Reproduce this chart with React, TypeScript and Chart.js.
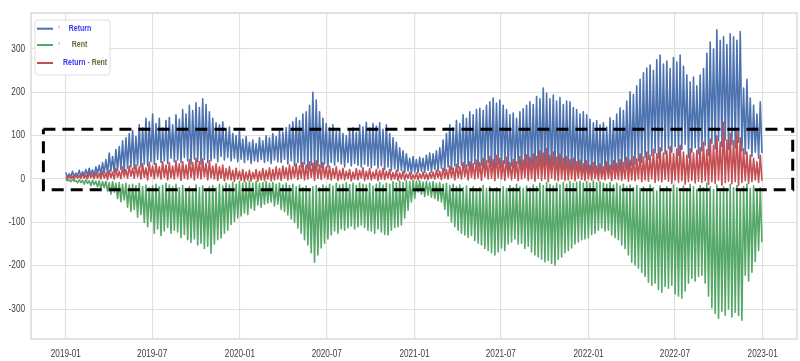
import React, { useEffect, useRef } from "react";
import { Chart, registerables } from "chart.js";

Chart.register(...registerables);

// x-axis ticks (days since 2019-01-01)
const tickDays = [0, 181, 365, 547, 731, 912, 1096, 1277, 1461];
const tickLabels = ["2019-01", "2019-07", "2020-01", "2020-07", "2021-01", "2021-07", "2022-01", "2022-07", "2023-01"];
const yTicks = [-300, -200, -100, 0, 100, 200, 300];

const seriesNames = ["Return", "Rent", "Return - Rent"];

// Weekly peaks / troughs (one value per week, 2019-01 .. 2022-12)
const returnHigh = [
  15, 12, 18, 14, 20, 17, 22, 25, 21, 28,
  32, 38, 45, 60, 52, 68, 75, 88, 95, 105,
  112, 98, 125, 118, 140, 132, 150, 128, 140, 118,
  135, 142, 125, 148, 138, 160, 150, 170, 158, 176,
  165, 185, 172, 155, 140, 130, 125, 132, 115, 120,
  105, 100, 110, 92, 98, 85, 90, 82, 95, 88,
  100, 95, 105, 98, 110, 108, 118, 125, 132, 141,
  135, 150, 155, 170, 200, 182, 155, 140, 128, 118,
  125, 110, 115, 105, 100, 112, 118, 108, 125, 120,
  131, 118, 128, 122, 130, 115, 125, 105, 95, 85,
  72, 65, 58, 48, 52, 45, 50, 48, 55, 60,
  58, 65, 72, 90, 105, 125, 118, 135, 128, 148,
  140, 155, 148, 160, 163, 158, 170, 178, 187, 175,
  182, 170, 160, 148, 152, 140, 155, 162, 170, 178,
  172, 190, 185, 210, 198, 185, 194, 180, 188, 172,
  180, 178, 165, 160, 150, 155, 148, 138, 130, 135,
  125, 130, 120, 141, 135, 150, 164, 158, 180, 201,
  195, 215, 230, 245, 256, 263, 250, 275, 286, 265,
  272, 255, 280, 270, 286, 260, 240, 224, 235, 215,
  240, 255, 290, 316, 300, 344, 320, 328, 310, 335,
  328, 320, 340, 210, 230, 187, 170, 150, 178,
];
const returnLow = [
  3, 5, 4, 7, 6, 8, 7, 10, 8, 12,
  10, 14, 12, 18, 15, 20, 22, 18, 25, 28,
  24, 32, 28, 35, 30, 40, 34, 45, 38, 42,
  36, 48, 40, 44, 38, 50, 42, 35, 46, 40,
  34, 45, 38, 42, 48, 40, 52, 44, 50, 42,
  48, 40, 46, 38, 44, 36, 42, 40, 45, 38,
  42, 36, 44, 40, 38, 46, 35, 42, 30, 38,
  28, 35, 25, 32, 20, 30, 26, 35, 28, 38,
  32, 40, 35, 28, 38, 30, 36, 32, 28, 34,
  30, 26, 32, 25, 30, 22, 28, 20, 24, 18,
  20, 15, 18, 12, 16, 14, 18, 15, 20, 16,
  22, 18, 25, 20, 28, 22, 30, 25, 32, 26,
  30, 24, 35, 28, 32, 26, 38, 30, 25, 34,
  28, 36, 22, 30, 26, 35, 20, 28, 24, 32,
  26, 20, 30, 18, 25, 22, 28, 16, 24, 20,
  26, 18, 22, 15, 20, 12, 18, 14, 20, 16,
  12, 18, 15, 22, 18, 25, 20, 28, 24, 32,
  35, 42, 38, 50, 45, 55, 60, 48, 65, 58,
  70, 62, 75, 55, 68, 80, 50, 62, 72, 58,
  65, 78, 55, 82, 70, 88, 75, 90, 68, 80,
  72, 85, 65, 58, 70, 52, 62, 48, 60,
];
const rentHigh = [
  -1, -2, -1, -3, -2, -3, -2, -4, -3, -5,
  -4, -6, -5, -8, -6, -10, -8, -12, -10, -14,
  -12, -15, -10, -18, -14, -20, -16, -12, -18, -15,
  -10, -14, -18, -12, -20, -15, -22, -18, -25, -14,
  -20, -16, -24, -18, -15, -20, -12, -16, -10, -14,
  -8, -12, -6, -10, -8, -5, -9, -6, -10, -8,
  -6, -10, -8, -12, -9, -14, -10, -15, -12, -18,
  -14, -20, -16, -22, -18, -15, -20, -14, -18, -12,
  -16, -10, -14, -12, -8, -13, -10, -15, -9, -12,
  -14, -10, -16, -12, -8, -14, -10, -12, -6, -9,
  -5, -8, -4, -6, -3, -5, -4, -7, -5, -8,
  -6, -10, -8, -12, -10, -15, -12, -18, -14, -20,
  -16, -22, -18, -25, -20, -15, -22, -18, -26, -20,
  -24, -18, -22, -15, -20, -12, -18, -22, -16, -20,
  -14, -18, -10, -15, -8, -12, -16, -10, -14, -8,
  -12, -6, -10, -8, -5, -9, -6, -10, -4, -8,
  -6, -9, -12, -8, -14, -10, -16, -12, -18, -14,
  -20, -15, -22, -18, -25, -14, -20, -28, -16, -22,
  -18, -25, -14, -20, -30, -16, -22, -12, -18, -24,
  -15, -20, -10, -18, -25, -14, -30, -18, -22, -12,
  -20, -15, -28, -18, -12, -22, -16, -25, -20,
];
const rentLow = [
  -4, -6, -5, -9, -8, -12, -10, -15, -13, -18,
  -22, -20, -28, -35, -30, -45, -52, -48, -65, -75,
  -70, -88, -82, -100, -110, -98, -125, -115, -130, -120,
  -112, -125, -118, -122, -135, -128, -140, -146, -138, -152,
  -148, -160, -155, -171, -150, -140, -136, -125, -118, -105,
  -98, -90, -85, -78, -82, -67, -72, -60, -65, -58,
  -55, -53, -62, -58, -70, -75, -83, -92, -100, -113,
  -125, -140, -152, -170, -192, -175, -159, -148, -138, -129,
  -120, -125, -115, -118, -113, -108, -115, -110, -106, -112,
  -118, -120, -125, -115, -122, -128, -129, -118, -112, -110,
  -106, -90, -72, -53, -45, -30, -35, -40, -37, -42,
  -45, -50, -53, -70, -85, -99, -110, -118, -125, -129,
  -135, -130, -142, -148, -152, -160, -165, -170, -175, -168,
  -159, -165, -150, -145, -138, -150, -148, -160, -155, -168,
  -175, -180, -185, -191, -188, -195, -199, -185, -180, -170,
  -165, -159, -150, -145, -140, -138, -136, -128, -125, -118,
  -113, -120, -118, -129, -135, -140, -152, -160, -175, -192,
  -198, -205, -215, -225, -238, -245, -240, -255, -261, -248,
  -252, -245, -265, -270, -275, -258, -240, -229, -235, -225,
  -222, -240, -270, -297, -310, -321, -305, -314, -300, -318,
  -307, -315, -326, -222, -235, -215, -190, -165, -146,
];
const diffHigh = [
  5, 8, 6, 10, 8, 12, 9, 14, 11, 15,
  12, 18, 14, 20, 16, 24, 18, 28, 22, 30,
  25, 32, 28, 35, 26, 38, 30, 36, 28, 40,
  32, 38, 30, 42, 35, 40, 32, 45, 38, 48,
  40, 46, 36, 42, 30, 35, 28, 32, 24, 28,
  20, 25, 18, 22, 16, 20, 15, 22, 18, 24,
  20, 26, 22, 28, 24, 30, 26, 32, 28, 35,
  30, 38, 32, 40, 36, 42, 32, 38, 28, 30,
  24, 28, 20, 25, 18, 22, 16, 24, 20, 26,
  18, 24, 16, 22, 20, 25, 18, 22, 15, 20,
  14, 18, 12, 15, 10, 14, 12, 16, 13, 15,
  16, 20, 18, 25, 22, 30, 26, 34, 28, 38,
  32, 40, 35, 44, 38, 48, 42, 52, 45, 55,
  48, 42, 50, 38, 45, 40, 52, 44, 56, 50,
  58, 52, 65, 60, 70, 55, 62, 50, 58, 48,
  52, 45, 48, 40, 44, 35, 42, 32, 38, 30,
  35, 28, 40, 32, 42, 36, 45, 38, 50, 44,
  52, 46, 58, 50, 62, 55, 68, 58, 72, 60,
  65, 75, 58, 70, 78, 62, 55, 70, 60, 66,
  72, 85, 68, 92, 78, 100, 85, 131, 90, 105,
  88, 110, 95, 70, 62, 55, 48, 40, 55,
];
const diffLow = [
  0, 1, 0, 2, 1, 2, 0, 3, 1, 2,
  0, 2, -1, 3, 0, 4, 1, 5, 2, 6,
  2, 5, 0, 4, -2, 6, 1, 5, 0, 4,
  -2, 3, 0, 5, -3, 2, 0, 4, -2, 3,
  0, 5, -2, 3, 0, -3, 2, -4, 0, -2,
  -5, 0, -3, -6, -2, -4, 0, -5, -2, -3,
  0, -4, -2, 0, -3, 2, -2, 0, 3, -1,
  2, -2, 0, 4, -3, 2, -1, 3, 0, -2,
  2, -3, 0, -2, 1, -4, 0, -2, 2, -3,
  0, -2, 1, -3, 0, -1, 2, -2, 0, -3,
  0, -2, 1, -1, 0, -2, 1, 0, -1, 2,
  0, 3, -1, 2, 0, 4, -2, 3, 0, 5,
  -2, 4, 0, 3, -3, 5, 0, 2, -4, 3,
  0, -3, 4, -2, 2, -4, 0, 3, -3, 1,
  -5, 2, -3, 0, -6, 2, -2, -4, 0, -3,
  -2, 0, -4, 2, -1, -3, 0, -2, 1, -3,
  0, -2, 2, -4, 0, -1, -3, 0, -5, -2,
  -4, 0, -6, -2, -5, 0, -8, -3, -6, -1,
  -5, -10, -2, -8, -4, -12, -6, -3, -9, -5,
  -8, -4, -12, -6, -10, -3, -14, -8, -5, -11,
  -6, -15, -8, -4, -10, -6, -2, -8, -4,
];

// dashed highlight box (days, values)
const boxDays = [-47, 1524];
const boxValues = [-25, 115];

const COLORS = { ret: "#4c72b0", rent: "#55a868", diff: "#c44e52" };
const FONT = "'Liberation Sans', Arial, sans-serif";
const SQUEEZE = 0.82;

function weekly(hi: number[], lo: number[]) {
  const pts: { x: number; y: number }[] = [];
  for (let k = 0; k < hi.length; k++) {
    pts.push({ x: k * 7, y: hi[k] });
    pts.push({ x: k * 7 + 3.5, y: lo[k] });
  }
  return pts;
}

function squeezedText(ctx: CanvasRenderingContext2D, text: string, x: number, y: number, align: CanvasTextAlign) {
  ctx.save();
  ctx.translate(x, y);
  ctx.scale(SQUEEZE, 1);
  ctx.textAlign = align;
  ctx.fillText(text, 0, 0);
  ctx.restore();
}

const framePlugin = {
  id: "frameAndLabels",
  afterDatasetsDraw(chart: any) {
    const { ctx, chartArea, scales } = chart;
    ctx.save();
    ctx.strokeStyle = "#d0d0d0";
    ctx.lineWidth = 1.2;
    ctx.strokeRect(chartArea.left, chartArea.top, chartArea.right - chartArea.left, chartArea.bottom - chartArea.top);
    ctx.fillStyle = "#3c3c3c";
    ctx.font = `10px ${FONT}`;
    ctx.textBaseline = "middle";
    tickDays.forEach((d, i) => {
      const px = scales.x.getPixelForValue(d);
      squeezedText(ctx, tickLabels[i], px, chartArea.bottom + 15, "center");
    });
    yTicks.forEach((v) => {
      const py = scales.y.getPixelForValue(v);
      squeezedText(ctx, String(v), chartArea.left - 6, py, "right");
    });
    ctx.restore();
  },
};

const legendPlugin = {
  id: "customLegend",
  afterDraw(chart: any) {
    const { ctx, chartArea } = chart;
    const x0 = chartArea.left + 4;
    const y0 = chartArea.top + 7;
    const w = 75;
    const h = 55;
    ctx.save();
    ctx.beginPath();
    const r = 3;
    ctx.moveTo(x0 + r, y0);
    ctx.lineTo(x0 + w - r, y0);
    ctx.quadraticCurveTo(x0 + w, y0, x0 + w, y0 + r);
    ctx.lineTo(x0 + w, y0 + h - r);
    ctx.quadraticCurveTo(x0 + w, y0 + h, x0 + w - r, y0 + h);
    ctx.lineTo(x0 + r, y0 + h);
    ctx.quadraticCurveTo(x0, y0 + h, x0, y0 + h - r);
    ctx.lineTo(x0, y0 + r);
    ctx.quadraticCurveTo(x0, y0, x0 + r, y0);
    ctx.closePath();
    ctx.fillStyle = "rgba(255,255,255,0.9)";
    ctx.fill();
    ctx.strokeStyle = "#dedede";
    ctx.lineWidth = 1;
    ctx.stroke();

    const rows = [y0 + 8.7, y0 + 25, y0 + 43];
    const cols = [COLORS.ret, COLORS.rent, COLORS.diff];
    ctx.lineWidth = 2;
    rows.forEach((ry, i) => {
      ctx.strokeStyle = cols[i];
      ctx.beginPath();
      ctx.moveTo(x0 + 2, ry);
      ctx.lineTo(x0 + 18, ry);
      ctx.stroke();
    });
    ctx.strokeStyle = "#b5b5b5";
    ctx.lineWidth = 1;
    [rows[0], rows[1]].forEach((ry) => {
      ctx.beginPath();
      ctx.moveTo(x0 + 24, ry - 3);
      ctx.lineTo(x0 + 24, ry);
      ctx.stroke();
    });

    const blue = "#3535f5";
    const olive = "#626b3c";
    ctx.font = `bold 8.5px ${FONT}`;
    ctx.textBaseline = "middle";
    ctx.fillStyle = blue;
    squeezedText(ctx, seriesNames[0], x0 + 45, rows[0], "center");
    ctx.fillStyle = olive;
    squeezedText(ctx, seriesNames[1], x0 + 44.5, rows[1], "center");
    let tx = x0 + 28;
    const parts: [string, string][] = [["Return", blue], [" - ", "#707070"], ["Rent", olive]];
    parts.forEach(([t, c]) => {
      ctx.fillStyle = c;
      squeezedText(ctx, t, tx, rows[2], "left");
      tx += ctx.measureText(t).width * SQUEEZE;
    });
    ctx.restore();
  },
};

export default function App() {
  const ref = useRef<HTMLCanvasElement>(null);
  useEffect(() => {
    document.body.style.margin = "0";
    const box = [
      { x: boxDays[0], y: boxValues[1] },
      { x: boxDays[1], y: boxValues[1] },
      { x: boxDays[1], y: boxValues[0] },
      { x: boxDays[0], y: boxValues[0] },
      { x: boxDays[0], y: boxValues[1] },
    ];
    const common = { pointRadius: 0, borderWidth: 1.6, tension: 0, borderJoinStyle: "round" as const, fill: false };
    const chart = new Chart(ref.current!, {
      type: "line",
      data: {
        datasets: [
          { label: seriesNames[0], data: weekly(returnHigh, returnLow), borderColor: COLORS.ret, order: 3, ...common },
          { label: seriesNames[1], data: weekly(rentHigh, rentLow), borderColor: COLORS.rent, order: 2, ...common },
          { label: seriesNames[2], data: weekly(diffHigh, diffLow), borderColor: COLORS.diff, order: 1, ...common },
          {
            label: "box",
            data: box,
            borderColor: "#000000",
            borderWidth: 3,
            borderDash: [12, 7],
            pointRadius: 0,
            tension: 0,
            fill: false,
            order: 0,
          },
        ],
      },
      options: {
        animation: false,
        responsive: true,
        maintainAspectRatio: false,
        devicePixelRatio: 1,
        layout: { padding: { top: 13, right: 3, left: 0, bottom: 0 } },
        plugins: { legend: { display: false }, tooltip: { enabled: false } },
        scales: {
          x: {
            type: "linear",
            min: -73,
            max: 1533,
            afterBuildTicks: (s: any) => {
              s.ticks = tickDays.map((v) => ({ value: v }));
            },
            afterFit: (s: any) => {
              s.height = 22;
            },
            ticks: { display: false, autoSkip: false, maxRotation: 0 },
            grid: { color: "#e0e0e0", lineWidth: 1.1, drawTicks: false },
            border: { display: false },
          },
          y: {
            type: "linear",
            min: -369,
            max: 383,
            afterBuildTicks: (s: any) => {
              s.ticks = yTicks.map((v) => ({ value: v }));
            },
            afterFit: (s: any) => {
              s.width = 31;
            },
            ticks: { display: false },
            grid: { color: "#e0e0e0", lineWidth: 1.1, drawTicks: false },
            border: { display: false },
          },
        },
      },
      plugins: [framePlugin, legendPlugin],
    });
    return () => chart.destroy();
  }, []);
  return (
    <div style={{ position: "fixed", left: 0, top: 0, width: 800, height: 361, background: "#fff" }}>
      <canvas ref={ref} />
    </div>
  );
}
